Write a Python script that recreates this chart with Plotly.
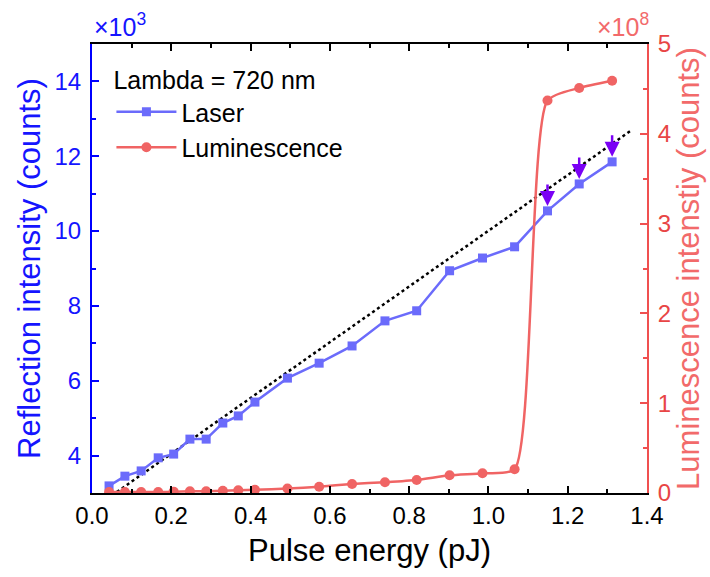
import plotly.graph_objects as go

# ---- data ----
pulse_energy = [0.043, 0.083, 0.124, 0.167, 0.206, 0.247, 0.288, 0.330, 0.369, 0.411,
                0.493, 0.573, 0.656, 0.739, 0.819, 0.902, 0.985, 1.066, 1.149, 1.229, 1.312]
laser_k = [3.19, 3.45, 3.59, 3.94, 4.04, 4.44, 4.44, 4.87, 5.06, 5.43,
           6.07, 6.47, 6.93, 7.60, 7.87, 8.94, 9.28, 9.58, 10.54, 11.26, 11.85]
lum_e8 = [0.01, 0.01, 0.01, 0.01, 0.015, 0.02, 0.02, 0.025, 0.03, 0.035,
          0.05, 0.07, 0.10, 0.12, 0.145, 0.197, 0.22, 0.264, 4.37, 4.51, 4.59]
fit_x = [0.063, 1.36]
fit_y = [3.03, 12.69]
arrow_idx = [18, 19, 20]

x_ticks = [0.0, 0.2, 0.4, 0.6, 0.8, 1.0, 1.2, 1.4]
x_ticklabels = ["0.0", "0.2", "0.4", "0.6", "0.8", "1.0", "1.2", "1.4"]

FONT = "Liberation Sans, Arial, sans-serif"
BLUE_AX = "#0000ff"
BLUE_TXT = "#1515ff"
BLUE_LINE = "#6b6bfb"
RED_AX = "#f05050"
RED_TICK = "#e84545"
RED_TITLE = "#f26a6a"
RED_LINE = "#f06464"
PURPLE = "#7a00f5"

fig = go.Figure()

fig.add_trace(go.Scatter(
    x=fit_x, y=fit_y, mode="lines", showlegend=False,
    line=dict(color="black", width=2.5, dash="dot"), yaxis="y"))

fig.add_trace(go.Scatter(
    x=pulse_energy, y=laser_k, mode="lines+markers", name="Laser",
    line=dict(color=BLUE_LINE, width=2.5),
    marker=dict(symbol="square", size=9, color=BLUE_LINE), yaxis="y"))

fig.add_trace(go.Scatter(
    x=pulse_energy, y=lum_e8, mode="lines+markers", name="Luminescence",
    line=dict(color=RED_LINE, width=2.5, shape="spline", smoothing=0.6),
    marker=dict(symbol="circle", size=10, color=RED_LINE), yaxis="y2"))

for i in arrow_idx:
    fig.add_annotation(x=pulse_energy[i], y=laser_k[i], xref="x", yref="y",
                       ax=0, ay=-28, showarrow=True, arrowhead=2, arrowsize=1.2,
                       arrowwidth=2.5, arrowcolor=PURPLE, standoff=5, text="")

fig.add_annotation(x=0.0, y=1.0, xref="paper", yref="paper", xanchor="left", yanchor="bottom",
                   yshift=1, text="×10<sup>3</sup>", showarrow=False,
                   font=dict(family=FONT, size=25, color=BLUE_TXT))
fig.add_annotation(x=1.0, y=1.0, xref="paper", yref="paper", xanchor="right", yanchor="bottom",
                   yshift=1, xshift=4, text="×10<sup>8</sup>", showarrow=False,
                   font=dict(family=FONT, size=25, color=RED_TITLE))

fig.update_layout(
    width=710, height=577,
    margin=dict(l=92, r=61, t=44, b=84),
    paper_bgcolor="white", plot_bgcolor="white",
    font=dict(family=FONT, size=24, color="black"),
    showlegend=True,
    legend=dict(x=0.035, y=0.972, xanchor="left", yanchor="top",
                bgcolor="rgba(0,0,0,0)", font=dict(family=FONT, size=25, color="black"),
                title=dict(text="Lambda = 720 nm", font=dict(family=FONT, size=25, color="black")),
                itemwidth=60, tracegroupgap=0),
    xaxis=dict(range=[0, 1.4], tickvals=x_ticks, ticktext=x_ticklabels,
               ticks="inside", ticklen=7, tickwidth=1.5, tickcolor="black",
               minor=dict(dtick=0.1, ticks="inside", ticklen=4, tickwidth=1.5, tickcolor="black"),
               showline=True, linecolor="black", linewidth=2, mirror="ticks",
               showgrid=False, zeroline=False,
               tickfont=dict(family=FONT, size=24, color="black"),
               title=dict(text="Pulse energy (pJ)", standoff=12,
                          font=dict(family=FONT, size=31, color="black"))),
    yaxis=dict(range=[3, 15], tick0=4, dtick=2,
               ticks="inside", ticklen=7, tickwidth=1.5, tickcolor=BLUE_AX,
               minor=dict(dtick=1, tick0=3, ticks="inside", ticklen=4, tickwidth=1.5, tickcolor=BLUE_AX),
               showline=True, linecolor=BLUE_AX, linewidth=2,
               showgrid=False, zeroline=False, ticklabelstandoff=4,
               tickfont=dict(family=FONT, size=24, color=BLUE_TXT),
               title=dict(text="Reflection intensity (counts)", standoff=5,
                          font=dict(family=FONT, size=31, color=BLUE_TXT))),
    yaxis2=dict(range=[0, 5], dtick=1, overlaying="y", side="right",
                ticks="inside", ticklen=7, tickwidth=1.5, tickcolor=RED_AX,
                minor=dict(dtick=0.5, ticks="inside", ticklen=4, tickwidth=1.5, tickcolor=RED_AX),
                showline=True, linecolor=RED_AX, linewidth=2,
                showgrid=False, zeroline=False, ticklabelstandoff=4,
                tickfont=dict(family=FONT, size=24, color=RED_TICK),
                title=dict(text="Luminescence intenstiy (counts)", standoff=5,
                           font=dict(family=FONT, size=31, color=RED_TITLE))),
)

fig.write_html("out.html")
